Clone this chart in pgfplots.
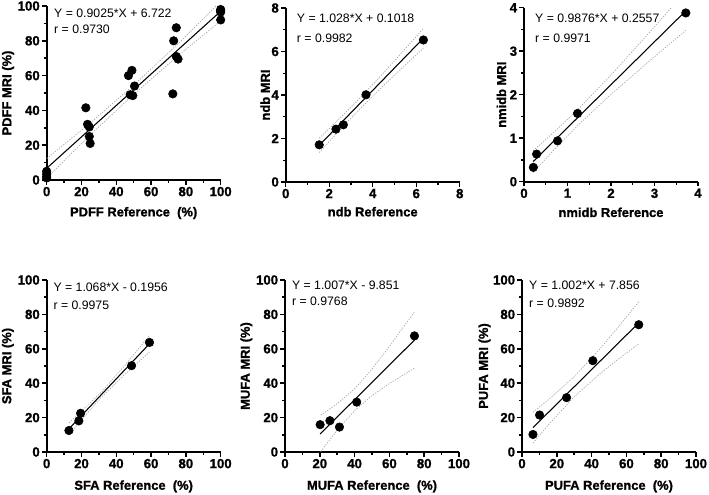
\documentclass[border=0pt]{standalone}
\usepackage{fontspec}
\setmainfont{Liberation Sans}[BoldFeatures={FakeBold=1.2}]
\usepackage{pgfplots}
\pgfplotsset{compat=1.18}
\newcommand\tkf{\fontsize{9.9}{12}\selectfont\bfseries}
\pgfplotsset{
 gp/.style={scale only axis, width=130.5pt, height=130.5pt, anchor=south west,
  axis x line=bottom, axis y line=left, axis line style={line width=1.3pt,-},
  tick align=outside, major tick length=3.5pt, minor tick length=2.2pt,
  every tick/.append style={line width=1.1pt,black}, minor tick num=1,
  xticklabel={{\tkf\pgfmathprintnumber{\tick}}},
  yticklabel={{\tkf\pgfmathprintnumber{\tick}}},
  xticklabel style={font=\tkf, inner sep=1.5pt},
  yticklabel style={font=\tkf, inner sep=1.5pt},
  label style={font=\bfseries\fontsize{9.7}{12}\selectfont},
  /pgf/number format/assume math mode=true},
 ci/.style={gray!70, line width=0.5pt, dash pattern=on 1pt off 1pt},
 fit/.style={black, line width=0.8pt},
 pts/.style={only marks, mark=*, mark size=3.2pt, black},
}
\tikzset{eqn/.style={anchor=west, inner sep=0pt, font=\fontsize{9.2}{11}\selectfont}}
\begin{document}
\begin{tikzpicture}
\useasboundingbox (0,0) rectangle (531.75pt,-371.25pt);
% Panel 1 PDFF
\begin{axis}[gp, at={(35pt,-135pt)}, xmin=0, xmax=100, ymin=0, ymax=100,
  xtick={0,20,...,100}, ytick={0,20,...,100},
  xlabel={PDFF Reference\ \ (\%)}, ylabel={PDFF MRI (\%)},
  x label style={at={(axis description cs:0.5,-0.19)},anchor=center},
  y label style={at={(axis description cs:-0.222,0.5)},anchor=center}]
\addplot[ci] coordinates {(0,12.3) (25,32.7) (50,54.5) (75,77.8) (100,102.6)};
\addplot[ci] coordinates {(0,1.1) (25,25.9) (50,49.2) (75,71.0) (100,91.4)};
\addplot[fit] coordinates {(0,6.722) (100,96.97)};
\addplot[pts] coordinates {(0,5) (0,3.5) (0,2) (0,1.2)
 (22.5,41.5) (23.5,32) (24.5,30.5) (24.5,25) (25,21)
 (47,60) (49,63) (48,49) (49.5,48.5) (50.5,54)
 (72.5,49.5) (73,80) (74.5,87.5) (74.5,71) (75.5,69.5)
 (100,98) (100,96.5) (100,92) (100,97.2)};
\node[eqn] at (rel axis cs:0.042,0.96) {Y = 0.9025*X + 6.722};
\node[eqn] at (rel axis cs:0.042,0.868) {r = 0.9730};
\end{axis}
% Panel 2 ndb
\begin{axis}[gp, at={(214.3pt,-136.5pt)}, xmin=0, xmax=8, ymin=0, ymax=8,
  xtick={0,2,...,8}, ytick={0,2,...,8},
  xlabel={ndb Reference}, ylabel={ndb MRI},
  x label style={at={(axis description cs:0.5,-0.171)},anchor=center},
  y label style={at={(axis description cs:-0.118,0.5)},anchor=center}]
\addplot[ci] coordinates {(1.54,2.015) (2.5,2.939) (3.3,3.742) (4.5,5.017) (6.33,7.059)};
\addplot[ci] coordinates {(1.54,1.355) (2.5,2.405) (3.3,3.246) (4.5,4.439) (6.33,6.159)};
\addplot[fit] coordinates {(1.54,1.685) (6.33,6.609)};
\addplot[pts] coordinates {(1.54,1.71) (2.31,2.43) (2.65,2.63) (3.69,4.01) (6.33,6.53)};
\node[eqn] at (rel axis cs:0.063,0.941) {Y = 1.028*X + 0.1018};
\node[eqn] at (rel axis cs:0.063,0.826) {r = 0.9982};
\end{axis}
% Panel 3 nmidb
\begin{axis}[gp, at={(393pt,-136.3pt)}, xmin=0, xmax=4, ymin=0, ymax=4,
  xtick={0,1,...,4}, ytick={0,1,...,4},
  xlabel={nmidb Reference}, ylabel={nmidb MRI},
  x label style={at={(axis description cs:0.5,-0.176)},anchor=center},
  y label style={at={(axis description cs:-0.13,0.5)},anchor=center}]
\addplot[ci] coordinates {(0.21,0.713) (0.7,1.150) (1.245,1.667) (2.0,2.452) (3.0,3.562) (3.72,4.38)};
\addplot[ci] coordinates {(0.21,0.213) (0.7,0.744) (1.245,1.303) (2.0,2.010) (3.0,2.874) (3.72,3.48)};
\addplot[fit] coordinates {(0.21,0.463) (3.72,3.93)};
\addplot[pts] coordinates {(0.215,0.33) (0.29,0.635) (0.77,0.94) (1.23,1.57) (3.72,3.88)};
\node[eqn] at (rel axis cs:0.063,0.937) {Y = 0.9876*X + 0.2557};
\node[eqn] at (rel axis cs:0.063,0.825) {r = 0.9971};
\end{axis}
% Panel 4 SFA
\begin{axis}[gp, at={(35pt,-339pt)}, height=129pt, xmin=0, xmax=100, ymin=0, ymax=100,
  xtick={0,20,...,100}, ytick={0,20,...,100},
  xlabel={SFA Reference\ \ (\%)}, ylabel={SFA MRI (\%)},
  x label style={at={(axis description cs:0.5,-0.2)},anchor=center},
  y label style={at={(axis description cs:-0.223,0.5)},anchor=center}]
\addplot[ci] coordinates {(12.8,16.97) (20,23.62) (31.7,35.16) (45,50.53) (59.1,67.71)};
\addplot[ci] coordinates {(12.8,9.97) (20,18.7) (31.7,32.16) (45,45.19) (59.1,58.13)};
\addplot[fit] coordinates {(12.8,13.47) (59.1,62.92)};
\addplot[pts] coordinates {(12.8,12.5) (18.5,18.1) (19.5,22.5) (48.8,50.2) (59.1,63.7)};
\node[eqn] at (rel axis cs:0.038,0.96) {Y = 1.068*X - 0.1956};
\node[eqn] at (rel axis cs:0.038,0.854) {r = 0.9975};
\end{axis}
% Panel 5 MUFA
\begin{axis}[gp, at={(213.75pt,-339pt)}, height=129pt, xmin=0, xmax=100, ymin=0, ymax=100,
  xtick={0,20,...,100}, ytick={0,20,...,100},
  xlabel={MUFA Reference\ \ (\%)}, ylabel={MUFA MRI (\%)},
  x label style={at={(axis description cs:0.5,-0.2)},anchor=center},
  y label style={at={(axis description cs:-0.222,0.5)},anchor=center}]
\addplot[ci] coordinates {(20.5,21.4) (30,28.1) (40,36.7) (50,48.2) (60,61.4) (74.4,81.4)};
\addplot[ci] coordinates {(20.5,0.2) (30,12.7) (40,24.1) (50,32.8) (60,39.8) (74.4,48.8)};
\addplot[fit] coordinates {(20.2,10.49) (74.4,65.07)};
\addplot[pts] coordinates {(20.2,15.9) (25.8,18.2) (31.3,14.5) (41.2,29.0) (74.4,67.5)};
\node[eqn] at (rel axis cs:0.039,0.967) {Y = 1.007*X - 9.851};
\node[eqn] at (rel axis cs:0.039,0.874) {r = 0.9768};
\end{axis}
% Panel 6 PUFA
\begin{axis}[gp, at={(391.5pt,-339pt)}, height=129pt, xmin=0, xmax=100, ymin=0, ymax=100,
  xtick={0,20,...,100}, ytick={0,20,...,100},
  xlabel={PUFA Reference\ \ (\%)}, ylabel={PUFA MRI (\%)},
  x label style={at={(axis description cs:0.5,-0.2)},anchor=center},
  y label style={at={(axis description cs:-0.215,0.5)},anchor=center}]
\addplot[ci] coordinates {(6.3,23.2) (15,30.2) (30,43.8) (45,60.2) (55,72.3) (67.1,87.3)};
\addplot[ci] coordinates {(6.3,5.2) (15,15.6) (30,32.1) (45,45.7) (55,53.7) (67.1,62.9)};
\addplot[fit] coordinates {(6.3,14.17) (67.1,75.09)};
\addplot[pts] coordinates {(6.3,10.2) (10.1,21.5) (25.6,31.6) (40.7,53.1) (67.1,74.0)};
\node[eqn] at (rel axis cs:0.04,0.97) {Y = 1.002*X + 7.856};
\node[eqn] at (rel axis cs:0.04,0.865) {r = 0.9892};
\end{axis}
\end{tikzpicture}
\end{document}
